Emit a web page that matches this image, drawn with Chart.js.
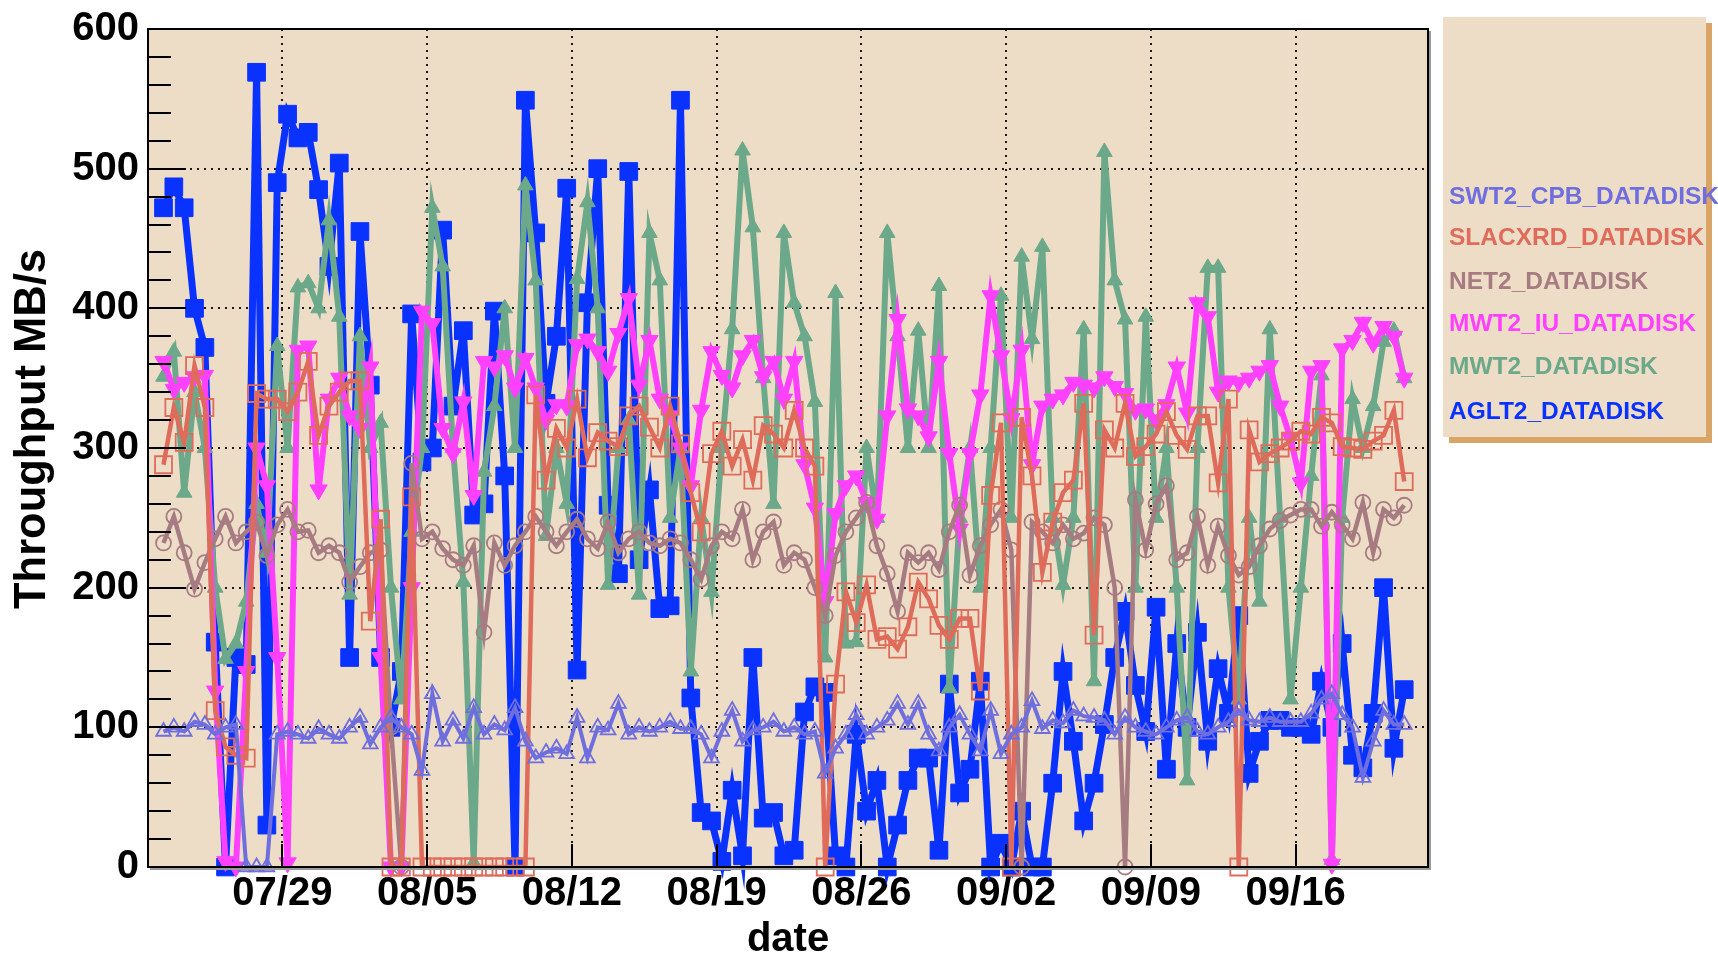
<!DOCTYPE html>
<html>
<head>
<meta charset="utf-8">
<title>Throughput MB/s</title>
<script src="https://cdn.jsdelivr.net/npm/chart.js@4.4.1/dist/chart.umd.min.js"></script>
<style>
  html, body { margin: 0; padding: 0; background: #ffffff; }
  #wrap { width: 1718px; height: 957px; position: relative; }
</style>
</head>
<body>
<div id="wrap"><canvas id="throughput"></canvas></div>
<script>
// -----------------------------
// Data: one reading every 12 hours, x counted in days from 07/22 00:00
// -----------------------------
const firstDay = 1.25;
const stepDay = 0.5;

const tickDays = [7, 14, 21, 28, 35, 42, 49, 56];
const tickLabels = ['07/29', '08/05', '08/12', '08/19', '08/26', '09/02', '09/09', '09/16'];
const yTickValues = [0, 100, 200, 300, 400, 500, 600];

const aglt2 = [
  472, 487, 472, 400, 372, 161, 0, 150, 145, 569,
  30, 490, 539, 522, 526, 485, 430, 504, 150, 455,
  345, 150, 100, 140, 396, 290, 300, 456, 330, 384,
  252, 260, 398, 280, 0, 549, 454, 332, 380, 486,
  141, 404, 500, 259, 210, 498, 220, 270, 185, 187,
  549, 121, 39, 33, 4, 55, 8, 150, 35, 39,
  8, 12, 111, 129, 125, 8, 0, 95, 40, 62,
  0, 30, 62, 78, 78, 12, 131, 53, 70, 133,
  0, 17, 0, 40, 0, 0, 60, 140, 90, 33,
  60, 102, 150, 183, 130, 97, 186, 70, 160, 100,
  168, 90, 142, 110, 180, 67, 90, 105, 105, 100,
  100, 95, 133, 100, 160, 80, 71, 110, 200, 85,
  127
];

const mwt2 = [
  351, 369, 268, 340, 300, 200, 149, 160, 190, 260,
  225, 373, 300, 415, 418, 400, 463, 394, 195, 380,
  300, 318, 200, 120, 240, 300, 472, 430, 300, 204,
  3, 283, 330, 400, 300, 488, 420, 237, 300, 260,
  421, 476, 400, 202, 300, 320, 195, 454, 420, 250,
  300, 140, 250, 197, 300, 385, 513, 458, 350, 260,
  454, 404, 380, 333, 150, 411, 160, 161, 300, 250,
  454, 380, 300, 384, 300, 416, 128, 250, 300, 200,
  300, 409, 250, 437, 378, 444, 250, 202, 250, 385,
  133, 512, 420, 392, 200, 394, 250, 300, 200, 62,
  300, 429, 429, 200, 120, 250, 190, 385, 250, 120,
  200, 280, 352, 5, 250, 335, 300, 330, 376, 384,
  350
];

const mwt2Iu = [
  362, 342, 347, 351, 352, 126, 4, 0, 140, 300,
  273, 150, 3, 370, 373, 270, 335, 350, 323, 314,
  358, 150, 0, 0, 200, 398, 389, 314, 296, 333,
  266, 362, 358, 366, 343, 364, 343, 320, 331, 330,
  374, 378, 369, 355, 382, 407, 345, 377, 335, 323,
  300, 273, 327, 369, 352, 343, 366, 377, 351, 362,
  335, 362, 288, 257, 190, 253, 273, 280, 261, 249,
  323, 392, 328, 323, 308, 362, 296, 242, 296, 338,
  409, 366, 321, 370, 288, 330, 335, 338, 347, 345,
  343, 351, 344, 339, 327, 328, 320, 331, 358, 325,
  404, 394, 340, 348, 347, 350, 355, 359, 330, 307,
  275, 355, 359, 2, 371, 377, 390, 375, 387, 380,
  350
];

const net2 = [
  232, 251, 225, 199, 218, 235, 251, 232, 240, 247,
  223, 245, 256, 240, 241, 225, 230, 225, 204, 215,
  225, 227, 100, 0, 289, 235, 240, 228, 220, 216,
  230, 168, 232, 216, 230, 240, 251, 240, 230, 240,
  249, 235, 228, 247, 225, 235, 240, 232, 230, 235,
  232, 220, 206, 230, 240, 235, 256, 220, 240, 247,
  216, 225, 220, 200, 180, 223, 240, 250, 261, 230,
  210, 183, 225, 218, 225, 213, 240, 259, 209, 230,
  245, 256, 227, 0, 247, 240, 232, 245, 235, 239,
  250, 245, 200, 0, 263, 227, 260, 273, 220, 225,
  251, 216, 244, 223, 209, 215, 230, 242, 248, 252,
  256, 256, 244, 254, 245, 235, 261, 225, 256, 250,
  259
];

const slacxrd = [
  288, 329, 304, 359, 329, 112, 86, 80, 78, 339,
  335, 335, 326, 340, 362, 309, 330, 340, 348, 348,
  176, 249, 0, 0, 265, 0, 0, 0, 0, 0,
  0, 0, 0, 0, 0, 0, 338, 277, 314, 300,
  335, 293, 311, 305, 301, 323, 330, 315, 300, 330,
  303, 268, 240, 296, 312, 287, 306, 277, 316, 310,
  300, 327, 300, 287, 0, 131, 197, 175, 202, 163,
  165, 156, 172, 204, 192, 173, 163, 178, 178, 126,
  266, 318, 0, 322, 280, 211, 247, 268, 277, 332,
  166, 313, 300, 332, 294, 301, 310, 326, 309, 299,
  323, 323, 275, 335, 0, 313, 290, 296, 300, 305,
  312, 310, 322, 318, 301, 300, 299, 305, 309, 327,
  276
];

const swt2Cpb = [
  97, 100, 97, 104, 102, 95, 100, 102, 0, 0,
  0, 95, 97, 95, 92, 99, 95, 92, 100, 107,
  88, 100, 107, 100, 95, 69, 124, 90, 105, 92,
  114, 95, 102, 98, 114, 90, 78, 82, 85, 81,
  107, 78, 100, 98, 117, 95, 100, 97, 100, 104,
  99, 99, 95, 78, 97, 112, 90, 98, 100, 104,
  97, 100, 95, 97, 67, 85, 95, 109, 95, 100,
  105, 117, 102, 117, 95, 83, 100, 109, 95, 83,
  112, 81, 95, 100, 119, 99, 105, 103, 112, 108,
  107, 105, 95, 107, 100, 97, 95, 100, 105, 107,
  97, 95, 100, 104, 112, 105, 104, 107, 104, 104,
  104, 110, 120, 124, 109, 100, 64, 90, 112, 102,
  102
];

// -----------------------------
// Look
// -----------------------------
const fontFamily = '"Liberation Sans", Arial, Helvetica, sans-serif';
const plotBg = '#eeddc6';
const legendShadow = '#d9a466';
const gridColor = '#1a1a1a';

const times = aglt2.map((_, i) => firstDay + i * stepDay);
const toPoints = vals => vals.map((v, i) => ({x: times[i], y: v}));

// first dataset is drawn on top in Chart.js, so keep legend order
function makeSet(label, values, color, opts) {
    return Object.assign({
        label: label,
        data: toPoints(values),
        borderColor: color,
        backgroundColor: color,
        pointBorderColor: color,
        pointBackgroundColor: color,
        tension: 0,
        fill: false,
        clip: false
    }, opts);
}

const datasets = [
    makeSet('SWT2_CPB_DATADISK', swt2Cpb, '#6e6edf', {
        borderWidth: 4, pointStyle: 'triangle', pointRadius: 8.5,
        pointBorderWidth: 1.8, pointBackgroundColor: 'rgba(0,0,0,0)'
    }),
    makeSet('SLACXRD_DATADISK', slacxrd, '#df6b5b', {
        borderWidth: 4.5, pointStyle: 'rect', pointRadius: 12,
        pointBorderWidth: 1.8, pointBackgroundColor: 'rgba(0,0,0,0)'
    }),
    makeSet('NET2_DATADISK', net2, '#a67b82', {
        borderWidth: 4.5, pointStyle: 'circle', pointRadius: 7.5,
        pointBorderWidth: 1.8, pointBackgroundColor: 'rgba(0,0,0,0)'
    }),
    makeSet('MWT2_IU_DATADISK', mwt2Iu, '#ff40ff', {
        borderWidth: 6, pointStyle: 'triangle', pointRotation: 180, pointRadius: 10,
        pointBorderWidth: 1
    }),
    makeSet('MWT2_DATADISK', mwt2, '#6ca88a', {
        borderWidth: 6, pointStyle: 'triangle', pointRadius: 9,
        pointBorderWidth: 1
    }),
    makeSet('AGLT2_DATADISK', aglt2, '#0a32ff', {
        borderWidth: 7, pointStyle: 'rect', pointRadius: 12.5,
        pointBorderWidth: 1
    })
];

// -----------------------------
// ROOT-like frame: background, dotted grid, inner ticks, legend box
// -----------------------------
const rootStyle = {
    id: 'rootStyle',
    beforeDraw(chart) {
        const {ctx, chartArea: a, scales} = chart;
        ctx.save();
        ctx.fillStyle = plotBg;
        ctx.fillRect(a.left, a.top, a.right - a.left, a.bottom - a.top);

        ctx.strokeStyle = gridColor;
        ctx.lineWidth = 2;
        ctx.setLineDash([2, 5]);
        ctx.beginPath();
        yTickValues.slice(1, -1).forEach(v => {
            const y = Math.round(scales.y.getPixelForValue(v));
            ctx.moveTo(a.left, y);
            ctx.lineTo(a.right, y);
        });
        tickDays.forEach(d => {
            const x = Math.round(scales.x.getPixelForValue(d));
            ctx.moveTo(x, a.top);
            ctx.lineTo(x, a.bottom);
        });
        ctx.stroke();
        ctx.restore();
    },
    afterDatasetsDraw(chart) {
        const {ctx, chartArea: a, scales} = chart;
        ctx.save();
        ctx.strokeStyle = '#000';
        ctx.lineWidth = 2;
        ctx.beginPath();
        for (let v = 20; v < 600; v += 20) {
            const y = Math.round(scales.y.getPixelForValue(v));
            const len = v % 100 === 0 ? 38 : 23;
            ctx.moveTo(a.left, y);
            ctx.lineTo(a.left + len, y);
        }
        tickDays.forEach(d => {
            const x = Math.round(scales.x.getPixelForValue(d));
            ctx.moveTo(x, a.bottom);
            ctx.lineTo(x, a.bottom - 23);
        });
        ctx.stroke();
        // frame
        ctx.strokeStyle = '#9a9a9a';
        ctx.beginPath();
        ctx.moveTo(a.right + 2, a.top + 2);
        ctx.lineTo(a.right + 2, a.bottom + 2);
        ctx.lineTo(a.left + 2, a.bottom + 2);
        ctx.stroke();
        ctx.strokeStyle = '#000';
        ctx.strokeRect(a.left, a.top, a.right - a.left, a.bottom - a.top);
        ctx.restore();
    },
    afterDraw(chart) {
        const {ctx} = chart;
        ctx.save();
        // y axis title
        ctx.translate(33, 429);
        ctx.rotate(-Math.PI / 2);
        ctx.fillStyle = '#000';
        ctx.font = 'bold 43.5px ' + fontFamily;
        ctx.textAlign = 'center';
        ctx.textBaseline = 'middle';
        ctx.fillText('Throughput MB/s', 0, 0);
        ctx.restore();

        // legend
        const box = {x: 1443, y: 17, w: 263, h: 420};
        ctx.save();
        ctx.fillStyle = legendShadow;
        ctx.fillRect(box.x + 6, box.y + 6, box.w, box.h);
        ctx.fillStyle = plotBg;
        ctx.fillRect(box.x, box.y, box.w, box.h);
        ctx.font = 'bold 24.5px ' + fontFamily;
        ctx.textAlign = 'left';
        ctx.textBaseline = 'middle';
        const rows = [197, 238, 282, 324, 367, 412];
        chart.data.datasets.forEach((ds, i) => {
            ctx.fillStyle = ds.borderColor;
            ctx.fillText(ds.label, 1449, rows[i]);
        });
        ctx.restore();
    }
};

const labelFont = {family: fontFamily, size: 40, weight: 'bold', lineHeight: 1};

new Chart(document.getElementById('throughput'), {
    type: 'line',
    data: {datasets: datasets},
    options: {
        responsive: true,
        maintainAspectRatio: false,
        animation: false,
        events: [],
        layout: {padding: {top: 23, right: 290, bottom: 0, left: 0}},
        plugins: {
            legend: {display: false},
            tooltip: {enabled: false}
        },
        scales: {
            x: {
                type: 'linear',
                min: 0.5,
                max: 62.4,
                grid: {display: false, drawTicks: false},
                border: {display: false},
                afterBuildTicks: s => { s.ticks = tickDays.map(v => ({value: v})); },
                afterFit: s => { s.height = 90; },
                ticks: {
                    autoSkip: false, maxRotation: 0, padding: 7, color: '#000', font: labelFont,
                    callback: v => tickLabels[tickDays.indexOf(v)] || ''
                },
                title: {
                    display: true, text: 'date', color: '#000', font: labelFont,
                    padding: {top: 0, bottom: -3}
                }
            },
            y: {
                min: 0,
                max: 600,
                grid: {display: false, drawTicks: false},
                border: {display: false},
                afterBuildTicks: s => { s.ticks = yTickValues.map(v => ({value: v})); },
                afterFit: s => { s.width = 148; },
                ticks: {padding: 9, color: '#000', font: labelFont}
            }
        }
    },
    plugins: [rootStyle]
});
</script>
</body>
</html>
